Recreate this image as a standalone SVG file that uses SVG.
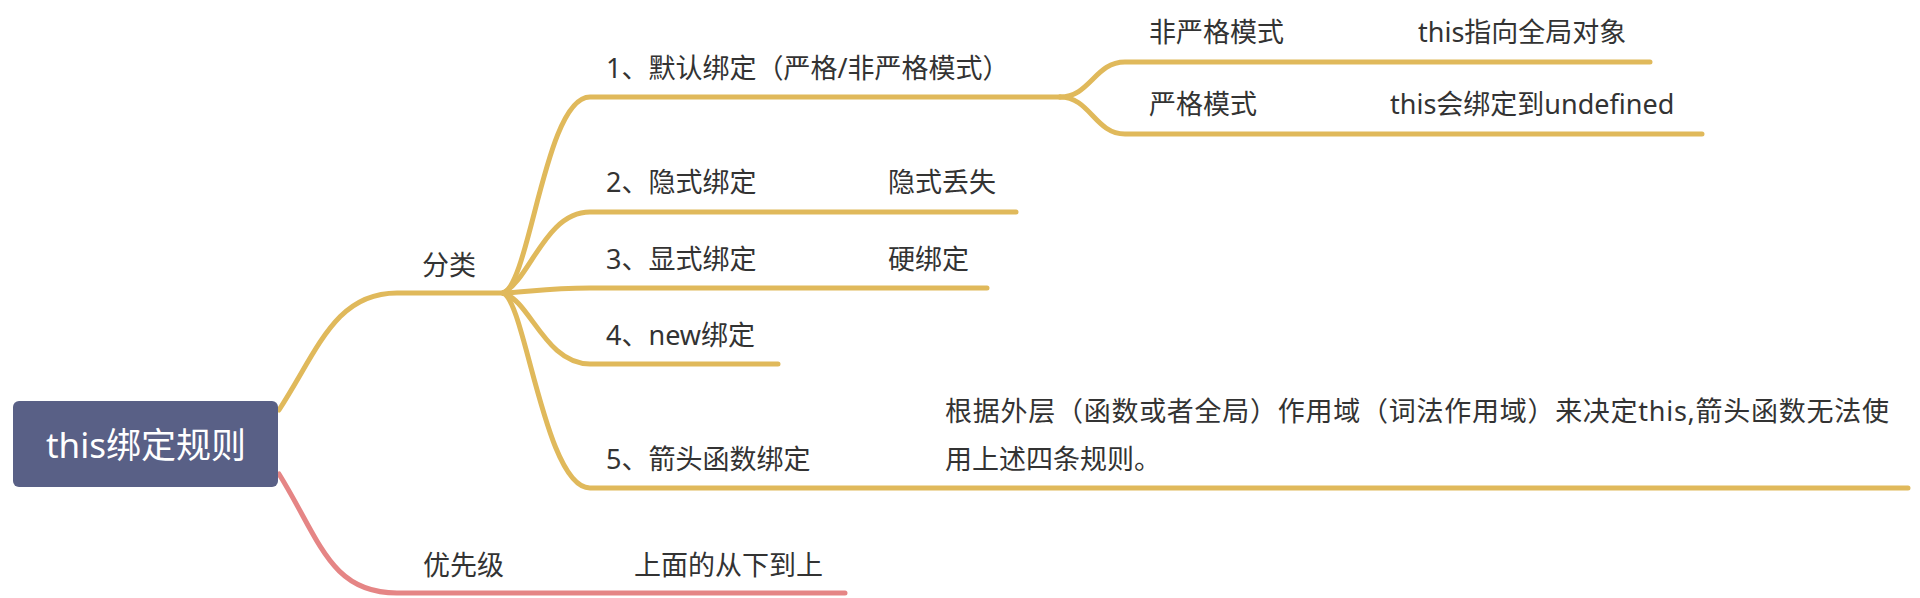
<svg xmlns="http://www.w3.org/2000/svg" width="1920" height="598" viewBox="0 0 1920 598">
<style>
.t{font-family:"Noto Sans","Noto Sans CJK SC",sans-serif;font-size:27px;fill:#333333}
.root{font-family:"Noto Sans","Noto Sans CJK SC",sans-serif;font-size:35px;fill:#ffffff}
.y{fill:none;stroke:#E0B95B;stroke-width:5;stroke-linecap:round}
.p{fill:none;stroke:#E58585;stroke-width:5;stroke-linecap:round}
</style>
<rect width="1920" height="598" fill="#ffffff"/>
<g id="connectors">
<path class="y" d="M279,410 C318,350 335,293 397,293 L505,293"/>
<path class="y" d="M503,293 C530,285 545,97 590,97 L1060,97"/>
<path class="y" d="M1060,97 C1090,97 1095,62 1125,62 L1650,62"/>
<path class="y" d="M1060,97 C1090,97 1095,134 1125,134 L1702,134"/>
<path class="y" d="M503,293 C530,280 545,212 590,212 L1016,212"/>
<path class="y" d="M503,293 C530,292 545,288 590,288 L987,288"/>
<path class="y" d="M503,293 C530,300 545,364 590,364 L778,364"/>
<path class="y" d="M503,293 C525,300 545,488 590,488 L1908,488"/>
<path class="p" d="M279,474 C320,540 330,593 397,593 L845,593"/>
</g>
<g id="root">
<rect x="13" y="401" width="265" height="86" rx="6" fill="#596086"/>
<text class="root" x="146" y="458" text-anchor="middle">this绑定规则</text>
</g>
<g id="fenlei"><text class="t" x="422" y="275">分类</text></g>
<g id="n1"><text class="t" x="606" y="78">1、默认绑定（严格/非严格模式）</text></g>
<g id="n1a"><text class="t" x="1149" y="42">非严格模式</text></g>
<g id="n1a-d"><text class="t" x="1418" y="42">this指向全局对象</text></g>
<g id="n1b"><text class="t" x="1149" y="114">严格模式</text></g>
<g id="n1b-d"><text class="t" x="1390" y="114">this会绑定到undefined</text></g>
<g id="n2"><text class="t" x="606" y="192">2、隐式绑定</text></g>
<g id="n2-d"><text class="t" x="888" y="192">隐式丢失</text></g>
<g id="n3"><text class="t" x="606" y="269">3、显式绑定</text></g>
<g id="n3-d"><text class="t" x="888" y="269">硬绑定</text></g>
<g id="n4"><text class="t" x="606" y="345">4、new绑定</text></g>
<g id="n5"><text class="t" x="606" y="469">5、箭头函数绑定</text></g>
<g id="n5-d"><text class="t" x="945" y="421" textLength="944" lengthAdjust="spacing">根据外层（函数或者全局）作用域（词法作用域）来决定this,箭头函数无法使</text><text class="t" x="945" y="469">用上述四条规则。</text></g>
<g id="priority"><text class="t" x="423" y="575">优先级</text></g>
<g id="priority-d"><text class="t" x="634" y="575">上面的从下到上</text></g>
</svg>
